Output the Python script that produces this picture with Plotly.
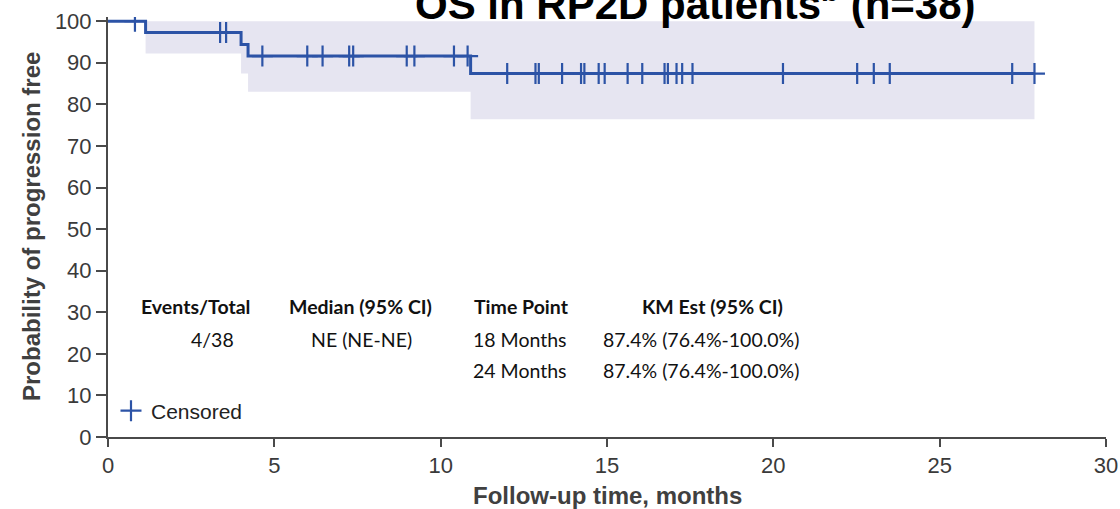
import numpy as np
import plotly.graph_objects as go

# ---------------- data ----------------
step_times = [0.0, 1.13, 4.0, 4.21, 10.9]          # months at which survival steps
surv_pct = [100.0, 97.3, 94.4, 91.6, 87.4]          # KM estimate after each step
last_followup = 27.85

ci_times = [1.13, 4.0, 4.21, 10.9]
ci_lower = [92.2, 87.4, 83.0, 76.4]
ci_upper = [100.0, 100.0, 100.0, 100.0]

censor_times = [0.81, 3.37, 3.55, 4.64, 5.99, 6.45, 7.25, 7.37, 8.98, 9.21,
                10.40, 10.81, 12.0, 12.85, 12.95, 13.65, 14.22, 14.32, 14.75,
                14.93, 15.62, 16.06, 16.73, 16.83, 17.09, 17.26, 17.57, 20.29,
                22.52, 23.02, 23.5, 27.18, 27.85]

x_ticks = [0, 5, 10, 15, 20, 25, 30]
y_ticks = [0, 10, 20, 30, 40, 50, 60, 70, 80, 90, 100]

table_headers = ["Events/Total", "Median (95% CI)", "Time Point", "KM Est (95% CI)"]
table_row1 = ["4/38", "NE (NE-NE)", "18 Months", "87.4% (76.4%-100.0%)"]
table_row2 = ["", "", "24 Months", "87.4% (76.4%-100.0%)"]

title_text = "<b>OS in RP2D patients<sup>b</sup> (n=38)</b>"
x_title = "<b>Follow-up time, months</b>"
y_title = "<b>Probability of progression free</b>"

# ---------------- styling ----------------
LINE = "#2c53a6"
BAND = "#e6e5f1"
AXIS = "#4a4a4a"
TXT = "#3a3a3a"
FONT = "Liberation Sans"

# survival at censor times (step lookup)
st = np.array(step_times)
sv = np.array(surv_pct)
cens_y = [float(sv[np.searchsorted(st, t, side="right") - 1]) for t in censor_times]

fig = go.Figure()

# confidence band
fig.add_trace(go.Scatter(
    x=ci_times + [last_followup], y=ci_upper + [ci_upper[-1]],
    mode="lines", line=dict(width=0, shape="hv", color=BAND),
    showlegend=False, hoverinfo="skip"))
fig.add_trace(go.Scatter(
    x=ci_times + [last_followup], y=ci_lower + [ci_lower[-1]],
    mode="lines", line=dict(width=0, shape="hv", color=BAND),
    fill="tonexty", fillcolor=BAND, showlegend=False, hoverinfo="skip"))

# KM curve
fig.add_trace(go.Scatter(
    x=step_times + [last_followup], y=surv_pct + [surv_pct[-1]],
    mode="lines", line=dict(color=LINE, width=3, shape="hv"),
    showlegend=False))

# censor marks
fig.add_trace(go.Scatter(
    x=censor_times, y=cens_y, mode="markers", name="Censored",
    marker=dict(symbol="cross-thin", size=15,
                line=dict(color=LINE, width=2.2), color=LINE)))

# table text
col_x_head = [195, 360, 521, 712]
col_x_val = [212, 361, 520, 701]
row_y = [306, 339, 370]

def px2paper_x(px):
    return (px - 108) / 998.0

def px2paper_y(py):
    return (437 - py) / 420.0

ann = []
for i, h in enumerate(table_headers):
    ann.append(dict(text="<b>%s</b>" % h, x=px2paper_x(col_x_head[i]), y=px2paper_y(row_y[0]),
                    xref="paper", yref="paper", showarrow=False, xanchor="center", yanchor="middle",
                    font=dict(family="Lato", size=19.5, color="#111111")))
for r, row in enumerate([table_row1, table_row2]):
    for i, v in enumerate(row):
        if v:
            ann.append(dict(text=v, x=px2paper_x(col_x_val[i]), y=px2paper_y(row_y[r + 1]),
                            xref="paper", yref="paper", showarrow=False, xanchor="center",
                            yanchor="middle", font=dict(family="Lato", size=19.5, color="#111111")))

# title (top part is cut off by the page edge, as in the reference)
ann.append(dict(text=title_text, x=px2paper_x(695), y=px2paper_y(1), xref="paper", yref="paper",
                showarrow=False, xanchor="center", yanchor="middle",
                font=dict(family=FONT, size=42, color="#000000")))
# axis titles
ann.append(dict(text=x_title, x=0.5, y=px2paper_y(495), xref="paper", yref="paper",
                showarrow=False, xanchor="center", yanchor="middle",
                font=dict(family=FONT, size=24, color="#404040")))
ann.append(dict(text=y_title, x=px2paper_x(31), y=px2paper_y(227), xref="paper", yref="paper",
                showarrow=False, xanchor="center", yanchor="middle", textangle=-90,
                font=dict(family=FONT, size=24, color="#404040")))

fig.update_layout(
    width=1120, height=509,
    margin=dict(l=108, r=14, t=17, b=72),
    paper_bgcolor="white", plot_bgcolor="white",
    annotations=ann,
    showlegend=True,
    legend=dict(x=0.003, y=px2paper_y(411), xanchor="left", yanchor="middle",
                bgcolor="rgba(0,0,0,0)", font=dict(family=FONT, size=21, color="#222222"),
                itemwidth=30, borderwidth=0),
    xaxis=dict(range=[0, 30], tickvals=x_ticks, showgrid=False, zeroline=False,
               automargin=False,
               showline=True, linecolor=AXIS, linewidth=2, ticks="outside",
               ticklen=8, tickwidth=2, tickcolor=AXIS,
               tickfont=dict(family=FONT, size=22, color=TXT)),
    yaxis=dict(range=[0, 101], tickvals=y_ticks, showgrid=False, zeroline=False,
               automargin=False,
               showline=True, linecolor=AXIS, linewidth=2, ticks="outside",
               ticklen=10, tickwidth=2, tickcolor=AXIS,
               tickfont=dict(family=FONT, size=22, color=TXT)),
)

fig.write_html("out.html")
